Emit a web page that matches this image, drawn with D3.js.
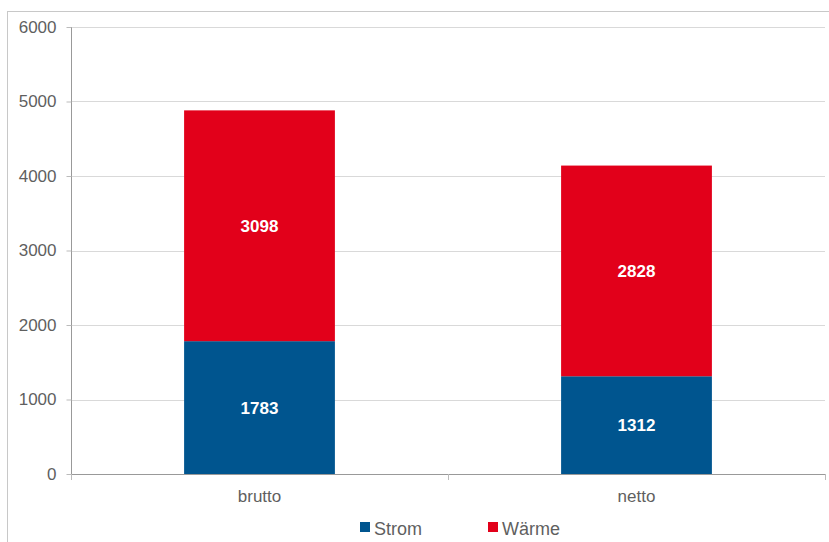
<!DOCTYPE html>
<html><head><meta charset="utf-8">
<script src="https://cdn.jsdelivr.net/npm/d3@7"></script>
<style>body{margin:0;background:#fff}svg{display:block}</style>
</head><body>
<script>
const categories = ["brutto", "netto"];
const seriesNames = ["Strom", "Wärme"];
const strom = [1783, 1312];
const waerme = [3098, 2828];
const yTicks = [0, 1000, 2000, 3000, 4000, 5000, 6000];
const colors = ["#00558f", "#e2001a"];

const W = 829, H = 542;
const m = {left: 71, right: 4, top: 27, bottom: 68};
const svg = d3.select("body").append("svg").attr("width", W).attr("height", H);
const font = "'Liberation Sans', Arial, sans-serif";

// outer frame
svg.append("rect").attr("x", 7.5).attr("y", 11.5).attr("width", W + 10).attr("height", H + 10)
  .attr("fill", "none").attr("stroke", "#c8c8c8").attr("stroke-width", 1);

const x = d3.scaleBand().domain(categories).range([m.left, W - m.right]).paddingInner(0).paddingOuter(0);
const y = d3.scaleLinear().domain([0, 6000]).range([H - m.bottom, m.top]);

// gridlines
svg.append("g").selectAll("line").data(yTicks.filter(d => d > 0)).join("line")
  .attr("x1", m.left).attr("x2", W - m.right)
  .attr("y1", d => Math.round(y(d)) + 0.5).attr("y2", d => Math.round(y(d)) + 0.5)
  .attr("stroke", "#d9d9d9");

// y axis
const ya = svg.append("g").attr("transform", `translate(${m.left + 0.5},0)`)
  .call(d3.axisLeft(y).tickValues(yTicks).tickSize(5).tickPadding(10).tickFormat(d3.format("d")));
ya.select(".domain").attr("stroke", "#999").attr("d", `M0,${y(6000)}V${y(0)}`);
ya.selectAll(".tick line").attr("stroke", "#bbb");
ya.selectAll("text").attr("fill", "#5f5f5f").style("font-family", font).style("font-size", "17px");

// stacked data
const stackData = categories.map((c, i) => ({cat: c, Strom: strom[i], "Wärme": waerme[i]}));
const stack = d3.stack().keys(seriesNames)(stackData);
const bw = x.bandwidth() * 0.4;

stack.forEach((s, si) => {
  const g = svg.append("g");
  g.selectAll("rect").data(s).join("rect")
    .attr("x", d => x(d.data.cat) + (x.bandwidth() - bw) / 2)
    .attr("width", bw)
    .attr("y", d => y(d[1]))
    .attr("height", d => y(d[0]) - y(d[1]))
    .attr("fill", colors[si]);
  g.selectAll("text").data(s).join("text")
    .attr("x", d => x(d.data.cat) + x.bandwidth() / 2)
    .attr("y", d => (y(d[0]) + y(d[1])) / 2 + 6)
    .attr("text-anchor", "middle")
    .attr("fill", "#fff").style("font-weight", "bold").style("font-family", font).style("font-size", "17px")
    .text(d => d[1] - d[0]);
});

// x axis
const xa = svg.append("g").attr("transform", `translate(0,${y(0) + 0.5})`)
  .call(d3.axisBottom(x).tickSize(0).tickPadding(12));
xa.select(".domain").remove();
svg.append("line").attr("x1", m.left).attr("x2", W - m.right).attr("y1", y(0) + 0.5).attr("y2", y(0) + 0.5).attr("stroke", "#999");
const xTickPos = [m.left, ...categories.slice(1).map(c => x(c)), W - m.right];
svg.append("g").selectAll("line").data(xTickPos).join("line")
  .attr("x1", d => Math.round(d) + 0.5).attr("x2", d => Math.round(d) + 0.5)
  .attr("y1", y(0)).attr("y2", y(0) + 6).attr("stroke", "#bbb");
xa.selectAll("text").attr("fill", "#5f5f5f").style("font-family", font).style("font-size", "17px").attr("dy", "0.9em");

// legend
const lg = svg.append("g");
const legX = [360, 488];
seriesNames.forEach((n, i) => {
  lg.append("rect").attr("x", legX[i]).attr("y", 522).attr("width", 10).attr("height", 10).attr("fill", colors[i]);
  lg.append("text").attr("x", legX[i] + 14).attr("y", 535).attr("fill", "#5f5f5f")
    .style("font-family", font).style("font-size", "18px").text(n);
});
</script>
</body></html>
